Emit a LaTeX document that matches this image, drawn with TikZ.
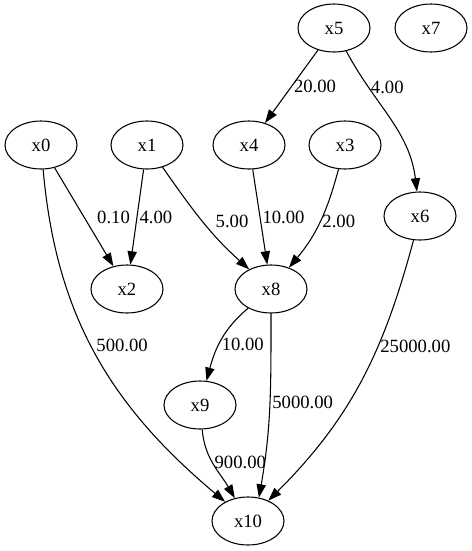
\documentclass[tikz,border=0pt]{standalone}
\usepackage{fontspec}
\setmainfont{Liberation Serif}
\usetikzlibrary{shapes.geometric,arrows.meta}

\begin{document}
\begin{tikzpicture}[x=0.75pt, y=-0.75pt, every node/.style={font=\fontsize{14}{16}\selectfont},
  var/.style={draw, ellipse, line width=0.8pt, minimum width=54pt, minimum height=36pt, inner sep=0pt},
  arr/.style={-{Triangle[length=10pt, width=7pt]}, line width=0.8pt},
  lab/.style={inner sep=1.5pt}]
\useasboundingbox (0,0) rectangle (472,551);
\node[var] (x5) at (334,28) {x5};
\node[var] (x7) at (431,28) {x7};
\node[var] (x0) at (41,145) {x0};
\node[var] (x1) at (147,145) {x1};
\node[var] (x4) at (249,145) {x4};
\node[var] (x3) at (345,145) {x3};
\node[var] (x6) at (420,216) {x6};
\node[var] (x2) at (127,289) {x2};
\node[var] (x8) at (271,289) {x8};
\node[var] (x9) at (200,405) {x9};
\node[var] (x10) at (248,521) {x10};
\draw[arr] (x5) -- node[lab, right]{20.00} (x4);
\draw[arr] (x5) to[out=-62, in=97] node[lab, right, pos=0.25]{4.00} (x6);
\draw[arr] (x0) -- node[lab, right=8pt]{0.10} (x2);
\draw[arr] (x1) -- node[lab, right]{4.00} (x2);
\draw[arr] (x1) to[out=-55, in=138] node[lab, right=8pt]{5.00} (x8);
\draw[arr] (x4) -- node[lab, right]{10.00} (x8);
\draw[arr] (x3) to[out=-105, in=50] node[lab, right]{2.00} (x8);
\draw[arr] (x0) to[out=-85, in=140] node[lab, right=2pt, pos=0.47]{500.00} (x10);
\draw[arr] (x6) to[out=-105, in=45] node[lab, right, pos=0.36]{25000.00} (x10);
\draw[arr] (x8) to[out=-140, in=75] node[lab, right, pos=0.55]{10.00} (x9);
\draw[arr] (x8) to[out=-90, in=80] node[lab, right, pos=0.48]{5000.00} (x10.65);
\draw[arr] (x9) to[out=-85, in=120] node[lab, right, pos=0.45]{900.00} (x10);
\end{tikzpicture}
\end{document}
